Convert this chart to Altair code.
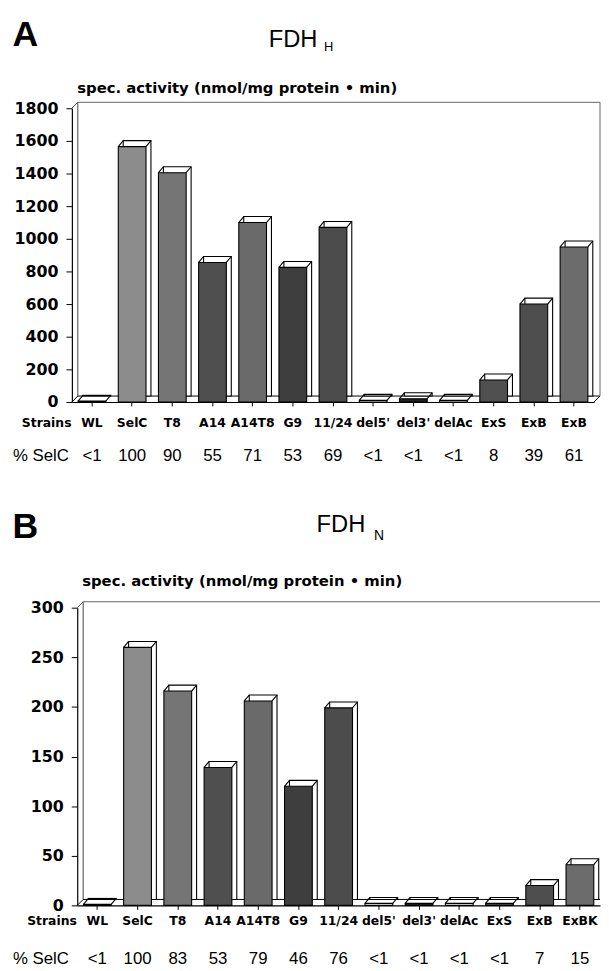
import altair as alt
import pandas as pd

# ---------------- data ----------------
strains_a = ["WL", "SelC", "T8", "A14", "A14T8", "G9", "11/24", "del5'", "del3'", "delAc", "ExS", "ExB", "ExB"]
activity_a = [5, 1565, 1405, 855, 1100, 825, 1070, 10, 20, 10, 135, 600, 950]
selc_a = ["<1", "100", "90", "55", "71", "53", "69", "<1", "<1", "<1", "8", "39", "61"]

strains_b = ["WL", "SelC", "T8", "A14", "A14T8", "G9", "11/24", "del5'", "del3'", "delAc", "ExS", "ExB", "ExBK"]
activity_b = [1, 260, 216, 139, 206, 120, 199, 2, 2, 2, 2, 20, 41]
selc_b = ["<1", "100", "83", "53", "79", "46", "76", "<1", "<1", "<1", "<1", "7", "15"]

shades_a = ["#ffffff", "#8c8c8c", "#757575", "#4f4f4f", "#6a6a6a", "#3e3e3e", "#4c4c4c",
            "#ffffff", "#222222", "#ffffff", "#505050", "#4e4e4e", "#6c6c6c"]
shades_b = ["#ffffff", "#727272", "#8a8a8a", "#7a7a7a", "#707070", "#585858", "#4a4a4a",
            "#ffffff", "#ffffff", "#ffffff", "#ffffff", "#555555", "#5a5a5a"]

ONE = pd.DataFrame({"k": [0]})
D = 6  # depth of the 3-D effect (px)


def seg(x1, y1, x2, y2, color="black", w=1.0):
    return alt.Chart(ONE).mark_rule(color=color, strokeWidth=w).encode(
        x=alt.value(x1), y=alt.value(y1), x2=alt.value(x2), y2=alt.value(y2))


def label(text, x, y, font, size, weight="normal", baseline="alphabetic"):
    return alt.Chart(ONE).mark_text(
        text=text, align="left", baseline=baseline, font=font, fontSize=size,
        fontWeight=weight, color="#000000", fill="#000000").encode(x=alt.value(x), y=alt.value(y))


def panel(strains, values, pct, ymax, ystep, shades, W, H, x0, right_wall, texts, lab_dy, pct_dy):
    n = len(strains)
    df = pd.DataFrame({"idx": list(range(n)), "strain": strains, "value": values, "pct": pct})
    xscale = alt.Scale(domain=list(range(n)), range=[x0, W], paddingInner=0.31, paddingOuter=0.155)
    yscale = alt.Scale(domain=[0, ymax], nice=False)
    xaxis = alt.Axis(labels=False, title=None, tickSize=4, tickColor="black", domainColor="black",
                     domainWidth=1.2, grid=False)
    yaxis = alt.Axis(values=list(range(0, ymax + 1, ystep)), format="d", title=None,
                     labelFont="DejaVu Sans", labelFontWeight="bold", labelFontSize=16,
                     labelColor="black", tickColor="black", domainColor="black", domainWidth=1.2,
                     tickSize=6, labelPadding=8, grid=False, offset=-x0)
    X = alt.X("idx:O", scale=xscale, axis=xaxis)
    Y = alt.Y("value:Q", scale=yscale, axis=yaxis)
    base = alt.Chart(df)

    right_end = W + D if right_wall else W
    layers = [
        seg(x0, 0, x0 + D, -D, "#444444"),
        seg(x0 + D, -D, x0 + D, H - D, "#444444"),
        seg(x0 + D, -D, right_end, -D, "#666666"),
        seg(x0, H, x0 + D, H - D),
        seg(x0 + D, H - D, right_end, H - D),
    ]
    if right_wall:
        layers += [seg(W + D, -D, W + D, H - D, "#666666"), seg(W, H, W + D, H - D)]

    back = base.mark_bar(fill="white", stroke="black", strokeWidth=1.1,
                         xOffset=5, yOffset=-D, y2Offset=-D).encode(x=X, y=Y)
    front = base.mark_bar(stroke="black", strokeWidth=1.1).encode(
        x=X, y=Y,
        color=alt.Color("idx:O", scale=alt.Scale(domain=list(range(n)), range=shades), legend=None))
    diag_tl = base.mark_rule(color="black", strokeWidth=1.1, x2Offset=5, y2Offset=-D).encode(
        x=alt.X("idx:O", bandPosition=0, scale=xscale, axis=xaxis),
        x2=alt.X2("idx", bandPosition=0), y=Y, y2=alt.Y2("value"))
    diag_tr = base.mark_rule(color="black", strokeWidth=1.1, x2Offset=5, y2Offset=-D).encode(
        x=alt.X("idx:O", bandPosition=1, scale=xscale, axis=xaxis),
        x2=alt.X2("idx", bandPosition=1), y=Y, y2=alt.Y2("value"))
    strain_txt = base.mark_text(font="DejaVu Sans", fontWeight="bold", fontSize=12.5,
                                baseline="middle", color="black").encode(
        x=X, y=alt.value(H + lab_dy), text="strain:N")
    pct_txt = base.mark_text(font="Liberation Sans", fontSize=17, baseline="middle",
                             color="black").encode(x=X, y=alt.value(H + pct_dy), text="pct:N")

    layers += [back, front, diag_tl, diag_tr, strain_txt, pct_txt]
    layers += [label(*t) for t in texts]
    layers += [
        label("Strains", -50.6 + x0, H + lab_dy, "DejaVu Sans", 12.5, "bold", "middle"),
        label("% SelC", -59.6, H + pct_dy, "Liberation Sans", 17, "normal", "middle"),
    ]
    return alt.layer(*layers).properties(width=W, height=H)


HA, HB = 297, 301
texts_a = [
    ("A", -60, -63, "Liberation Sans", 36, "bold"),
    ("FDH", 199, -62, "Liberation Sans", 24),
    ("H", 255, -58, "Liberation Sans", 13),
    ("spec. activity (nmol/mg protein \u2022 min)", 5.4, -15.5, "DejaVu Sans", 15, "bold"),
]
texts_b = [
    ("B", -60, -70, "Liberation Sans", 36, "bold"),
    ("FDH", 247.4, -77, "Liberation Sans", 24),
    ("N", 305.4, -68, "Liberation Sans", 14),
    ("spec. activity (nmol/mg protein \u2022 min)", 10.4, -22, "DejaVu Sans", 15, "bold"),
]

pa = panel(strains_a, activity_a, selc_a, 1800, 200, shades_a, 528, HA, 0, True, texts_a, 21, 55)
pb = panel(strains_b, activity_b, selc_b, 300, 50, shades_b, 534, HB, 5.4, False, texts_b, 16, 54)

chart = alt.vconcat(pa, pb, spacing=208, bounds="flush").configure(
    padding={"left": 4.6, "top": 4, "right": 0, "bottom": 0}
).configure_view(stroke=None)

chart.save("out.html", embed_options={"renderer": "svg", "actions": False})
